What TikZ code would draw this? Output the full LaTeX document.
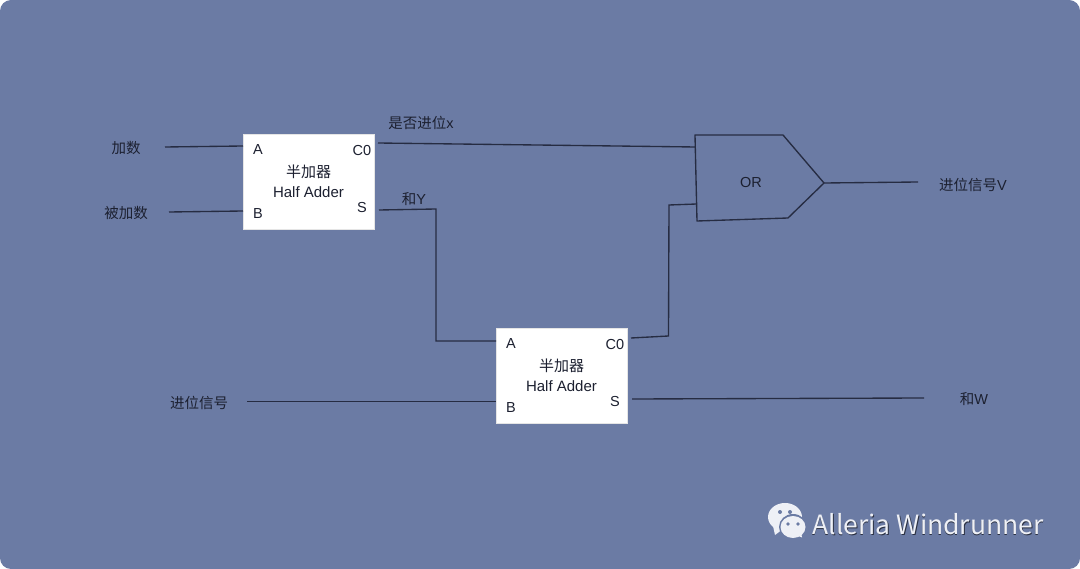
\documentclass[tikz,border=0pt]{standalone}
\usepackage{fontspec}
\setmainfont{Liberation Sans}
\newfontfamily\cjk{Noto Sans CJK SC}
\definecolor{panelblue}{HTML}{6B7BA4}
\definecolor{wirecol}{HTML}{262C42}
\definecolor{inkcol}{HTML}{1C2030}
\definecolor{markcol}{HTML}{EEF0F6}
\tikzset{
  lbl/.style={text=inkcol,inner sep=0pt,font=\fontsize{14.5}{17}\selectfont},
  wire/.style={draw=wirecol,line width=1.35pt},
  adder/.style={draw=white!80!gray,fill=white,line width=0.8pt,minimum width=131pt,minimum height=95pt,inner sep=0pt,align=center,text=inkcol,font=\fontsize{15}{19.5}\selectfont},
}
\begin{document}
\begin{tikzpicture}[x=1pt,y=-1pt]
\useasboundingbox (0,0) rectangle (1080,569);
\fill[panelblue,rounded corners=11pt] (0,0) rectangle (1080,569);

% Half adders
\node[adder] (HA1) at (308.5,181.5) {{\cjk 半加器}\\Half Adder};
\node[adder] (HA2) at (561.5,375.5) {{\cjk 半加器}\\Half Adder};

% Ports
\node[lbl] (HA1a) at (258,149.5) {A};
\node[lbl] (HA1b) at (258,213.5) {B};
\node[lbl] (HA1c) at (362,150.5) {C0};
\node[lbl] (HA1s) at (362,207.5) {S};
\node[lbl] (HA2a) at (511,343.5) {A};
\node[lbl] (HA2b) at (511,407.5) {B};
\node[lbl] (HA2c) at (615,344.5) {C0};
\node[lbl] (HA2s) at (615,401.5) {S};

% Signal names
\node[lbl] (addend) at (126,148) {\cjk 加数};
\node[lbl] (augend) at (126,213.5) {\cjk 被加数};
\node[lbl] (carryx) at (421,123) {{\cjk 是否进位}x};
\node[lbl] (sumy) at (414,199) {{\cjk 和}Y};
\node[lbl] (carryin) at (199,403) {\cjk 进位信号};
\node[lbl] (carryv) at (973,184.5) {{\cjk 进位信号}V};
\node[lbl] (sumw) at (974,399.5) {{\cjk 和}W};

% OR gate
\coordinate (ORnw) at (695,135);
\coordinate (ORne) at (783,135);
\coordinate (ORtip) at (824,183);
\coordinate (ORse) at (788,218);
\coordinate (ORsw) at (697,221);
\draw[wire,line join=round] (ORnw) -- (ORne) -- (ORtip) -- (ORse) -- (ORsw) -- cycle;
\node[lbl] (OR) at (751,182.5) {OR};

% Free wire ends
\coordinate (addendEnd) at (165,147);
\coordinate (augendEnd) at (169,212);
\coordinate (carryinEnd) at (247,401.7);
\coordinate (carryvEnd) at (918,182);
\coordinate (sumwEnd) at (924,398);
\coordinate (HA1ain) at (243,146);
\coordinate (HA1bin) at (243,211);
\coordinate (HA1cout) at (378,143);
\coordinate (HA1sout) at (379,210);
\coordinate (HA2ain) at (496,341);
\coordinate (HA2bin) at (496,401.7);
\coordinate (HA2cout) at (631,338);
\coordinate (HA2sout) at (632,399);
\coordinate (ORin1) at (695.5,147);
\coordinate (ORin2) at (696.5,204);

% Wires
\draw[wire] (addendEnd) -- (HA1ain);
\draw[wire] (augendEnd) -- (HA1bin);
\draw[wire] (HA1cout) -- (ORin1);
\draw[wire] (HA1sout) -- (436,209) -- (436,341) -- (HA2ain);
\draw[wire] (carryinEnd) -- (HA2bin);
\draw[wire] (HA2cout) -- (668.5,336) -- (669,205) -- (ORin2);
\draw[wire] (HA2sout) -- (sumwEnd);
\draw[wire] (ORtip) -- (carryvEnd);

% Watermark
\fill[markcol] (785,517) ellipse (17 and 14);
\fill[markcol] (773,526) -- (775,535) -- (783,529) -- cycle;
\fill[panelblue] (793,527) ellipse (14 and 13);
\fill[markcol] (793,527) ellipse (12.5 and 11);
\fill[markcol] (796,535) -- (802,537.5) -- (801,531) -- cycle;
\fill[panelblue] (780,512) circle (2);
\fill[panelblue] (790,512) circle (2);
\fill[panelblue] (788,524) circle (1.8);
\fill[panelblue] (798,524) circle (1.8);
\node[inner sep=0pt,text=black!60!panelblue,font=\cjk\fontsize{26.5}{30}\selectfont] (markshadow) at (928.5,525) {Alleria Windrunner};
\node[inner sep=0pt,text=markcol,font=\cjk\fontsize{26.5}{30}\selectfont] (mark) at (928,524) {Alleria Windrunner};
\end{tikzpicture}
\end{document}
